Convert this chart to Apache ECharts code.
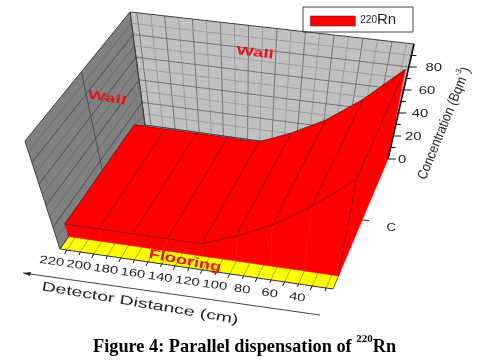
<!DOCTYPE html>
<html><head><meta charset="utf-8">
<style>html,body{margin:0;padding:0;background:#fff}#c{width:481px;height:364px}</style>
<script src="https://cdn.jsdelivr.net/npm/echarts@6/dist/echarts.min.js"></script>
</head><body><div id="c"></div>
<script>
// ---- data ----
const distances = [225,200,175,150,125,100,75,50,25];
const concentration = [11.5,11.5,11.5,11.5,11.5,23,38,60,90];
const xMajorTicks = [220,200,180,160,140,120,100,80,60,40];
const xMinorTicks = [210,190,170,150,130,110,90,70,50,30];
const zMajorTicks = [0,20,40,60,80];
const zMinorTicks = [10,30,50,70,90];
const categoryLabel = 'C';
const seriesName = '220Rn';

// ---- scene layout: where the box's corners sit on screen ----
const W=481,H=364;
const floorQuad=[[60,249],[333,289],[388,159],[145,125]];   // front-left, front-right, back-right, back-left
const topQuad  =[[25,141],[352,183],[414,44],[130,12]];
const depthFront=0.09, depthBack=0.885, depthCat=0.5;
const RED='#ff0000', EDGE='#7a0f0f';

function homography(q){ // unit square -> quad
  const [[x0,y0],[x1,y1],[x2,y2],[x3,y3]]=q;
  const dx1=x1-x2,dx2=x3-x2,sx=x0-x1+x2-x3,dy1=y1-y2,dy2=y3-y2,sy=y0-y1+y2-y3;
  const den=dx1*dy2-dx2*dy1;
  const g=(sx*dy2-dx2*sy)/den,h=(dx1*sy-sx*dy1)/den;
  const a=x1-x0+g*x1,b=x3-x0+h*x3,c=x0,d=y1-y0+g*y1,e=y3-y0+h*y3,f=y0;
  return (u,v)=>{const k=g*u+h*v+1;return [(a*u+b*v+c)/k,(d*u+e*v+f)/k];};
}
const hFloor=homography(floorQuad),hTop=homography(topQuad);
// project (distance, concentration, depth) through the hidden axes' scales
function P(api,x,z,d){
  const p=api.coord([x,z]);
  const u=p[0]/W,w=1-p[1]/H;
  const a=hFloor(u,d),b=hTop(u,d);
  return [a[0]+(b[0]-a[0])*w,a[1]+(b[1]-a[1])*w];
}
const poly=(pts,fill,stroke,lw)=>({type:'polygon',shape:{points:pts},style:{fill:fill,stroke:stroke||null,lineWidth:lw||0}});
const line=(a,b,c,lw)=>({type:'line',shape:{x1:a[0],y1:a[1],x2:b[0],y2:b[1]},style:{stroke:c,lineWidth:lw||1,fill:null}});
const txt=(x,y,t,o)=>({type:'text',x:x,y:y,rotation:(o.rot||0)*Math.PI/180,scaleX:o.sx||1,scaleY:o.sy||1,
  style:Object.assign({text:t,x:0,y:0,fill:o.fill||'#222',align:o.align||'center',verticalAlign:'middle',
  fontFamily:o.family||'"Liberation Sans"',fontSize:o.size||11,fontWeight:o.weight||'normal'},o.rich?{rich:o.rich}:{})});

const X0=225,X1=25,ZT=100;

function renderFrame(params,api){
  const ch=[];
  const allX=[...xMajorTicks,...xMinorTicks];
  const yEnd=depthFront+.03;
  // walls + floor (only the strip in front of the ribbon shows yellow)
  ch.push(poly([P(api,X0,0,1),P(api,X1,0,1),P(api,X1,ZT,1),P(api,X0,ZT,1)],'#c0c0c0'));
  ch.push(poly([P(api,X0,0,0),P(api,X0,0,1),P(api,X0,ZT,1),P(api,X0,ZT,0)],'#808080'));
  ch.push(poly([P(api,X0,0,0),P(api,X1,0,0),P(api,X1,0,yEnd),P(api,X0,0,yEnd)],'#ffff00'));
  // wall gridlines
  xMinorTicks.forEach(x=>ch.push(line(P(api,x,0,1),P(api,x,ZT,1),'#939393',.8)));
  xMajorTicks.forEach(x=>ch.push(line(P(api,x,0,1),P(api,x,ZT,1),'#6e6e6e',.9)));
  zMinorTicks.forEach(z=>{ch.push(line(P(api,X0,z,1),P(api,X1,z,1),'#939393',.8));ch.push(line(P(api,X0,z,0),P(api,X0,z,1),'#666',.8));});
  zMajorTicks.forEach(z=>{ch.push(line(P(api,X0,z,1),P(api,X1,z,1),'#6e6e6e',.9));ch.push(line(P(api,X0,z,0),P(api,X0,z,1),'#4a4a4a',.9));});
  ch.push(line(P(api,X0,0,depthCat),P(api,X0,ZT,depthCat),'#4a4a4a',.9));
  // floor gridlines
  allX.forEach(x=>ch.push(line(P(api,x,0,0),P(api,x,0,yEnd),'#8f8f30',.8)));
  // outlines
  ch.push(poly([P(api,X0,0,1),P(api,X1,0,1),P(api,X1,ZT,1),P(api,X0,ZT,1)],null,'#404040',1));
  ch.push(poly([P(api,X0,0,0),P(api,X0,0,1),P(api,X0,ZT,1),P(api,X0,ZT,0)],null,'#404040',1));
  return {type:'group',children:ch};
}

function renderRibbon(params,api){
  const i=params.dataIndex,ch=[];
  const x=api.value(0),z=api.value(1);
  if(i<distances.length-1){
    const nx=api.value(0,i+1),nz=api.value(1,i+1);
    ch.push(poly([P(api,x,z,depthFront),P(api,nx,nz,depthFront),P(api,nx,nz,depthBack),P(api,x,z,depthBack)],RED,RED,.5));
    ch.push(poly([P(api,x,0,depthFront),P(api,nx,0,depthFront),P(api,nx,nz,depthFront),P(api,x,z,depthFront)],RED,RED,.5));
    ch.push(line(P(api,x,z,depthFront),P(api,nx,nz,depthFront),EDGE,.8));
    ch.push(line(P(api,x,z,depthBack),P(api,nx,nz,depthBack),EDGE,.8));
    ch.push(line(P(api,x,z,depthFront),P(api,x,z,depthBack),EDGE,.8));
  } else {
    ch.push(poly([P(api,x,0,depthFront),P(api,x,z,depthFront),P(api,x,z,depthBack),P(api,x,0,1)],RED,RED,.5));
    ch.push(line(P(api,x,z,depthFront),P(api,x,z,depthBack),EDGE,.8));
    ch.push(line(P(api,x,0,depthFront),P(api,x,z,depthFront),EDGE,.8));
  }
  return {type:'group',children:ch};
}

function renderAxes(params,api){
  const ch=[];
  // distance axis
  ch.push(line(P(api,X0,0,0),P(api,X1,0,0),'#333',1));
  ch.push(line(P(api,X1,0,0),P(api,X1,0,depthFront),'#555',1));
  xMajorTicks.forEach(x=>{const a=P(api,x,0,0);ch.push(line(a,[a[0]-2,a[1]+4],'#111',1));
    ch.push(txt(a[0]-15,a[1]+11.5,String(x),{rot:-8,sx:1.35,size:11}));});
  xMinorTicks.forEach(x=>{const a=P(api,x,0,0);ch.push(line(a,[a[0]-1,a[1]+3],'#111',1));});
  // concentration axis
  ch.push(line(P(api,X1,0,1),P(api,X1,ZT,1),'#111',1.6));
  zMajorTicks.forEach(z=>{const a=P(api,X1,z,1);ch.push(line(a,[a[0]+8,a[1]],'#111',1));
    ch.push(txt(a[0]+10+z*.085,a[1]+1,String(z),{align:'left',sx:1.35,size:11}));});
  zMinorTicks.forEach(z=>{const a=P(api,X1,z,1);ch.push(line(a,[a[0]+5,a[1]],'#111',1));});
  // category axis
  const c=P(api,X1,0,depthCat);
  ch.push(line(c,[c[0]+7,c[1]+.5],'#333',1));
  ch.push(txt(c[0]+29,c[1]+8,categoryLabel,{sx:1.3,size:10}));
  // axis titles
  ch.push(txt(443,123,'{n|Concentration (Bqm}{s|-3}{n|)}',{rot:68,size:14,sx:.88,rich:{
    n:{fontFamily:'"Liberation Sans"',fontSize:14,fill:'#222',verticalAlign:'bottom',lineHeight:17},
    s:{fontFamily:'"Liberation Sans"',fontSize:8,fill:'#222',verticalAlign:'top',lineHeight:17}}}));
  ch.push(txt(140,303.5,'Detector Distance (cm)',{rot:-9.7,size:13,sx:1.5}));
  ch.push(line([23,273],[320,315],'#444',1));
  ch.push(poly([[23,273],[31,272],[30,276]],'#222'));
  // painted wall / floor words
  const bold={fill:'#e8141c',weight:'bold'};
  ch.push(txt(107,98,'Wall',Object.assign({rot:-10,size:12,sx:1.6},bold)));
  ch.push(txt(255,53,'Wall',Object.assign({rot:-7,size:12,sx:1.55},bold)));
  ch.push(txt(185,261,'Flooring',Object.assign({rot:-11,size:13.5,sx:1.36},bold)));
  return {type:'group',children:ch};
}

const chart=echarts.init(document.getElementById('c'),null,{renderer:'canvas'});
chart.setOption({
  animation:false,
  backgroundColor:'#fff',
  grid:{left:0,right:0,top:0,bottom:0},
  xAxis:{type:'value',min:X1,max:X0,inverse:true,show:false},
  yAxis:{type:'value',min:0,max:ZT,show:false},
  title:{text:'{b|Figure 4: Parallel dispensation of }{s|220}{b|Rn}',left:93,top:334,padding:0,
    textStyle:{rich:{
      b:{fontFamily:'"Liberation Serif"',fontWeight:'bold',fontSize:18.3,color:'#000',lineHeight:22,verticalAlign:'bottom'},
      s:{fontFamily:'"Liberation Serif"',fontWeight:'bold',fontSize:11,color:'#000',lineHeight:22,verticalAlign:'top'}}}},
  legend:{left:303,top:7,padding:[5,12,5,7],itemWidth:45,itemHeight:10,itemGap:0,icon:'rect',
    borderColor:'#444',borderWidth:1,selectedMode:false,
    data:[{name:seriesName,itemStyle:{color:RED,borderColor:'#7a0f0f',borderWidth:.6}}],
    formatter:()=>'{s|220}{n|Rn}',
    textStyle:{rich:{
      n:{fontFamily:'"Liberation Sans"',fontSize:15,color:'#222',lineHeight:12,verticalAlign:'bottom',width:24},
      s:{fontFamily:'"Liberation Sans"',fontSize:10,color:'#222',lineHeight:12,verticalAlign:'top'}}}},
  series:[
    {type:'custom',name:'frame',coordinateSystem:'cartesian2d',clip:false,silent:true,z:1,renderItem:renderFrame,data:[[X0,0]]},
    {type:'custom',name:seriesName,coordinateSystem:'cartesian2d',clip:false,silent:true,z:2,renderItem:renderRibbon,
      itemStyle:{color:RED},data:distances.map((d,i)=>[d,concentration[i]]),encode:{x:0,y:1}},
    {type:'custom',name:'axes',coordinateSystem:'cartesian2d',clip:false,silent:true,z:3,renderItem:renderAxes,data:[[X0,0]]}
  ]
});
</script></body></html>
